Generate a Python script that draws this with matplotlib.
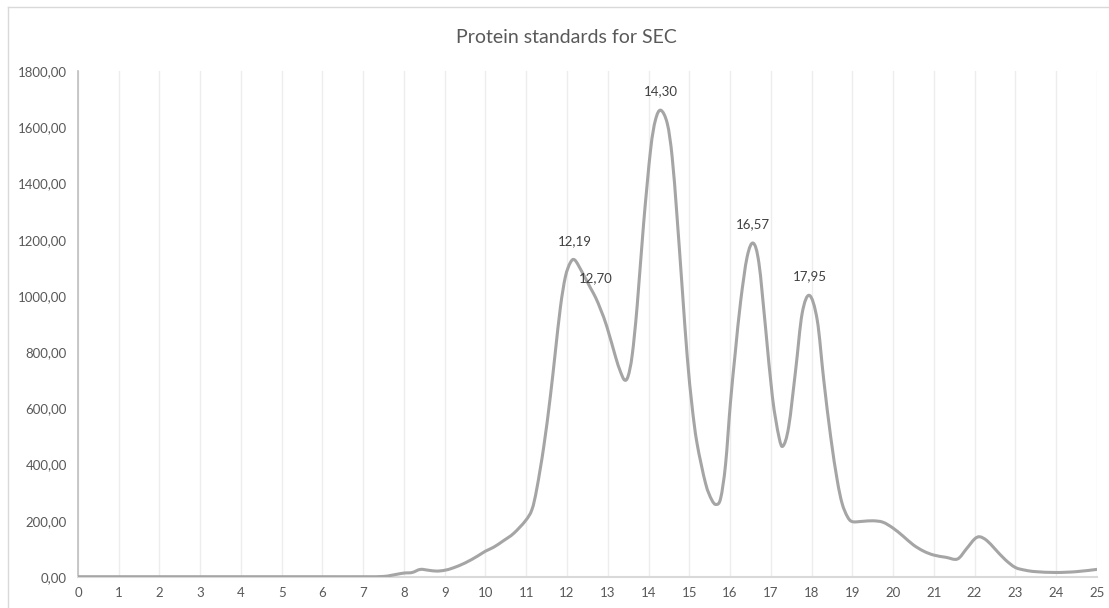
import matplotlib.pyplot as plt
from matplotlib.lines import Line2D
from matplotlib.path import Path
from matplotlib.patches import PathPatch
from matplotlib.ticker import MultipleLocator, FuncFormatter

# elution volume (ml) and detector signal
volume = [0, 1, 2, 3, 4, 5, 6, 7, 7.5, 7.8, 8.0, 8.2, 8.4, 8.6, 8.8, 9.0, 9.2,
          9.5, 9.8, 10.0, 10.2, 10.45, 10.69, 10.98, 11.14, 11.26, 11.43, 11.59,
          11.71, 11.84, 11.96, 12.08, 12.19, 12.37, 12.57, 12.70, 12.83, 12.98,
          13.19, 13.30, 13.41, 13.50, 13.60, 13.72, 13.88, 14.05, 14.17, 14.30,
          14.46, 14.58, 14.70, 14.83, 14.95, 15.07, 15.19, 15.40, 15.55, 15.66,
          15.77, 15.89, 16.01, 16.13, 16.26, 16.42, 16.57, 16.71, 16.87, 17.04,
          17.20, 17.30, 17.44, 17.61, 17.77, 17.95, 18.14, 18.30, 18.47, 18.63,
          18.75, 18.88, 19.0, 19.25, 19.5, 19.75, 20.0, 20.25, 20.5, 20.75, 21.0,
          21.3, 21.58, 21.8, 22.0, 22.13, 22.3, 22.5, 22.75, 23.0, 23.25, 23.5,
          24.0, 24.5, 25.0]
signal = [1, 1, 1, 1, 1, 1, 1, 1, 2, 9, 14, 16, 27, 24, 21, 24, 32,
          50, 74, 92, 106, 130, 155, 200, 240, 315, 464, 641,
          796, 962, 1068, 1118, 1128, 1085, 1030, 995, 950, 890,
          784, 735, 701, 715, 790, 962, 1258, 1519, 1626, 1661,
          1614, 1495, 1282, 1021, 784, 606, 476, 333, 275, 258,
          280, 400, 620, 800, 980, 1139, 1188, 1116, 890, 641,
          499, 466, 535, 736, 938, 1002, 914, 701, 499, 345,
          262, 215, 197, 198, 200, 195, 174, 145, 114, 92, 78,
          70, 64, 100, 135, 143, 130, 100, 62, 34, 24, 19,
          16, 19, 27]
peak_volumes = [12.19, 12.70, 14.30, 16.57, 17.95]


def smooth_path(xs, ys):
    """Bezier path through every point, like a spreadsheet 'smoothed line'."""
    pts = list(zip(xs, ys))
    verts = [pts[0]]
    codes = [Path.MOVETO]
    n = len(pts)
    for i in range(n - 1):
        p0 = pts[max(i - 1, 0)]
        p1 = pts[i]
        p2 = pts[i + 1]
        p3 = pts[min(i + 2, n - 1)]
        c1 = (p1[0] + (p2[0] - p0[0]) / 6, p1[1] + (p2[1] - p0[1]) / 6)
        c2 = (p2[0] - (p3[0] - p1[0]) / 6, p2[1] - (p3[1] - p1[1]) / 6)
        verts += [c1, c2, p2]
        codes += [Path.CURVE4] * 3
    return Path(verts, codes)


plt.rcParams['font.family'] = ['Lato', 'DejaVu Sans']
text_grey = '#595959'

fig = plt.figure(figsize=(11.09, 6.08), dpi=100)
ax = fig.add_axes([0.0703, 0.051, 0.9187, 0.832])

ax.add_patch(PathPatch(smooth_path(volume, signal), facecolor='none',
                       edgecolor='#A5A5A5', linewidth=2.2, joinstyle='round',
                       capstyle='round', zorder=3))

for v in peak_volumes:
    y = signal[volume.index(v)]
    ax.annotate(f"{v:.2f}".replace('.', ','), (v, y), xytext=(0, 19),
                textcoords='offset pixels', ha='center', va='center',
                fontsize=9.5, color='#404040', zorder=4)

ax.set_xlim(0, 25)
ax.set_ylim(0, 1800)
ax.xaxis.set_major_locator(MultipleLocator(1))
ax.yaxis.set_major_locator(MultipleLocator(200))
ax.yaxis.set_major_formatter(FuncFormatter(lambda v, p: f"{v:.2f}".replace('.', ',')))
ax.grid(axis='x', color='#EDEDED', linewidth=1)
ax.set_axisbelow(True)
ax.tick_params(length=0, labelsize=9.5, labelcolor=text_grey)
ax.tick_params(axis='y', pad=8)
ax.tick_params(axis='x', pad=7)

for side in ('top', 'right'):
    ax.spines[side].set_visible(False)
ax.spines['left'].set_color('#BFBFBF')
ax.spines['left'].set_linewidth(1.2)
ax.spines['bottom'].set_color('#D9D9D9')
ax.spines['bottom'].set_linewidth(1.5)

fig.text(0.511, 0.938, 'Protein standards for SEC', ha='center', va='center',
         fontsize=14, color=text_grey)

# chart area border
x0, ytop = 8 / 1109, 1 - 7 / 608
fig.add_artist(Line2D([x0, x0], [0, ytop], color='#D9D9D9', linewidth=1))
fig.add_artist(Line2D([x0, 1], [ytop, ytop], color='#D9D9D9', linewidth=1))

fig.savefig('out.png', dpi=100)
